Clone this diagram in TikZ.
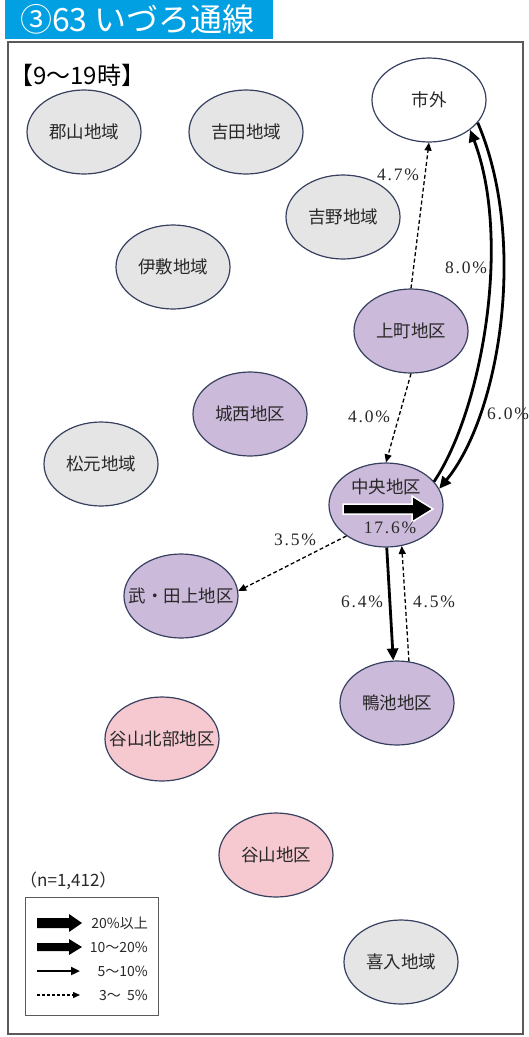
\documentclass[tikz,border=0pt]{standalone}
\usepackage{fontspec}
\newfontfamily\jp{Noto Sans CJK JP}
\newfontfamily\pct[LetterSpace=10]{Liberation Serif}
\usetikzlibrary{shapes.geometric,arrows.meta}
\definecolor{titleblue}{RGB}{0,160,226}
\definecolor{areagray}{RGB}{229,229,229}
\definecolor{areapurple}{RGB}{204,186,218}
\definecolor{areapink}{RGB}{246,200,208}
\definecolor{edgeblue}{RGB}{55,65,95}
\definecolor{txt}{RGB}{40,40,40}
\definecolor{framegray}{RGB}{90,90,90}
\begin{document}
\begin{tikzpicture}[x=1pt,y=-1pt,
  area/.style={ellipse, draw=edgeblue, line width=1.2pt, minimum width=114pt, minimum height=84pt, inner sep=0pt, font=\jp\fontsize{17.5}{17.5}\selectfont, text=txt},
  grayarea/.style={area, fill=areagray},
  purparea/.style={area, fill=areapurple},
  pinkarea/.style={area, fill=areapink},
  pctlabel/.style={font=\pct\fontsize{17.5}{17.5}\selectfont, text=txt, inner sep=0pt},
  dasharr/.style={line width=1.3pt, dash pattern=on 4pt off 2.5pt, -{Triangle[length=8pt,width=7pt]}},
  solidarr/.style={line width=2.8pt, -{Triangle[length=12pt,width=11pt]}},
  legtext/.style={font=\jp\fontsize{14}{14}\selectfont, text=txt, inner sep=0pt, anchor=east}
]
\useasboundingbox (0,0) rectangle (528,1037);
\fill[white] (0,0) rectangle (528,1037);
% title
\fill[titleblue] (5,0) rectangle (273,39);
\node[anchor=west, inner sep=0pt, text=white, font=\jp\fontsize{32}{32}\selectfont] (title) at (20,19) {③63 いづろ通線};
% frame
\draw[framegray, line width=1.5pt] (8,42) rectangle (523,1034);
\node[anchor=west, inner sep=0pt, font=\jp\fontsize{24}{24}\selectfont] (period) at (9,75) {【9〜19時】};
% areas
\node[area, fill=white] (shigai) at (429,100) {\makebox[0pt]{市外}};
\node[grayarea] (koriyama) at (84,132) {\makebox[0pt]{郡山地域}};
\node[grayarea] (yoshida) at (246,132) {\makebox[0pt]{吉田地域}};
\node[grayarea] (yoshino) at (343,217) {\makebox[0pt]{吉野地域}};
\node[grayarea] (ishiki) at (173,267) {\makebox[0pt]{伊敷地域}};
\node[purparea] (kami) at (411,331) {\makebox[0pt]{上町地区}};
\node[purparea] (josei) at (250,414) {\makebox[0pt]{城西地区}};
\node[grayarea] (matsumoto) at (101,464) {\makebox[0pt]{松元地域}};
\node[purparea] (chuo) at (386,505) {};
\node[inner sep=0pt, font=\jp\fontsize{17.5}{17.5}\selectfont, text=txt] (chuotxt) at (386,487) {中央地区};
\node[purparea] (take) at (181,596) {\makebox[0pt]{武・田上地区}};
\node[purparea] (kamo) at (397,703) {\makebox[0pt]{鴨池地区}};
\node[pinkarea] (taninorth) at (162,739) {\makebox[0pt]{谷山北部地区}};
\node[pinkarea] (tani) at (276,855) {\makebox[0pt]{谷山地区}};
\node[grayarea] (kiire) at (401,962) {\makebox[0pt]{喜入地域}};
% big intra-zone arrow in chuo
\filldraw[fill=black, draw=white, line width=1.5pt] (343,504) -- (412,504) -- (412,496) -- (433,509) -- (412,522) -- (412,514) -- (343,514) -- cycle;
\node[pctlabel] (p176) at (390,528) {17.6\%};
% connectors
\draw[dasharr] (kami.north) -- (shigai.south);
\node[pctlabel] (p47) at (398,175) {4.7\%};
\draw[dasharr] (kami.south) -- (chuo.north);
\node[pctlabel] (p40) at (369,417) {4.0\%};
\draw[solidarr] (chuo.26) .. controls (482,410) and (512,240) .. (shigai.-36);
\node[pctlabel] (p80) at (466,268) {8.0\%};
\draw[solidarr] (shigai.-25) .. controls (528,240) and (500,415) .. (chuo.17);
\node[pctlabel] (p60) at (508,414) {6.0\%};
\draw[dasharr] (chuo.218) -- (take.5);
\node[pctlabel] (p35) at (295,540) {3.5\%};
\draw[solidarr] (chuo.-89) -- (kamo.95);
\node[pctlabel] (p64) at (362,602) {6.4\%};
\draw[dasharr] (kamo.74) -- (chuo.-69);
\node[pctlabel] (p45) at (434,602) {4.5\%};
% legend
\node[anchor=west, inner sep=0pt, font=\jp\fontsize{17}{17}\selectfont, text=txt] (nlabel) at (20,881) {（n=1,412）};
\draw[framegray, line width=0.8pt] (25,897) rectangle (158,1015);
\fill[black] (37,918) -- (69,918) -- (69,914) -- (82,923) -- (69,932) -- (69,928) -- (37,928) -- cycle;
\node[legtext] (l1) at (148,923) {20\%以上};
\fill[black] (37,943) -- (69,943) -- (69,939) -- (82,947) -- (69,955) -- (69,951) -- (37,951) -- cycle;
\node[legtext] (l2) at (148,947) {10〜20\%};
\draw[line width=2.2pt, -{Triangle[length=9pt,width=8pt]}] (37,971) -- (80,971);
\node[legtext] (l3) at (148,971) {5〜10\%};
\draw[line width=1.2pt, dash pattern=on 3pt off 2pt, -{Triangle[length=7pt,width=6pt]}] (37,995) -- (80,995);
\node[legtext] (l4) at (148,995) {3〜\ \ 5\%};
\end{tikzpicture}
\end{document}
